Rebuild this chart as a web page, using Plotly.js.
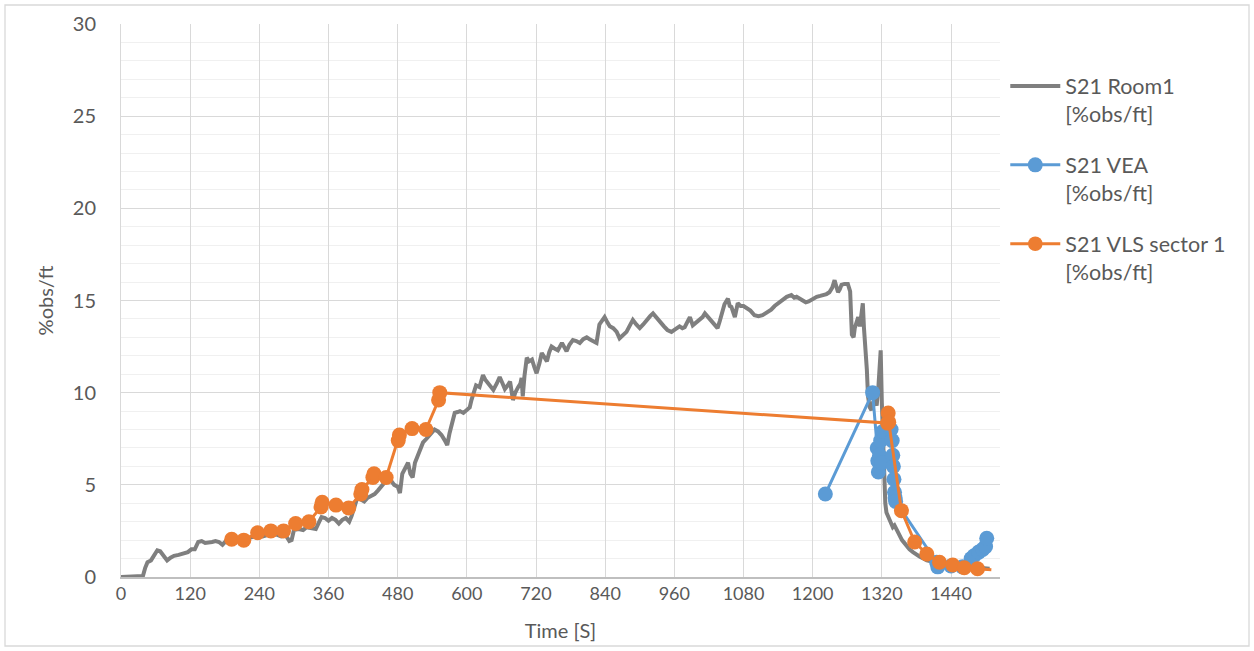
<!DOCTYPE html>
<html>
<head>
<meta charset="utf-8">
<script src="https://cdn.plot.ly/plotly-3.0.1.min.js"></script>
<style>html,body{margin:0;padding:0;background:#fff;}#chart{width:1254px;height:651px;}</style>
</head>
<body>
<div id="chart"></div>
<script>
// S21 Room1 [%obs/ft] — time (s) and value
const roomT = [0,10,20,30,38,42,46,52,58,63,68,74,80,86,92,100,108,116,122,128,134,140,146,152,158,164,170,176,182,190,198,206,214,222,230,238,246,254,262,270,278,286,292,296,300,308,316,322,330,338,344,348,354,360,366,372,378,384,390,396,400,406,410,416,422,428,434,440,446,452,458,462,468,474,480,484,488,494,498,502,506,510,514,518,524,530,536,540,544,550,556,562,566,570,574,579,584,588,594,600,605,608,612,616,622,628,632,637,642,646,652,657,662,666,671,675,680,684,689,693,695,697,700,704,708,713,717,721,726,730,735,739,743,747,752,758,765,769,773,778,784,790,796,802,808,813,818,825,830,835,839,844,848,854,860,865,870,877,882,888,894,900,906,912,918,923,928,935,942,948,955,962,969,974,978,982,987,992,998,1004,1009,1013,1019,1025,1030,1035,1039,1042,1047,1053,1056,1059,1062,1065,1070,1075,1080,1085,1092,1099,1106,1113,1120,1128,1134,1140,1148,1155,1163,1168,1172,1178,1183,1188,1193,1200,1207,1213,1219,1224,1229,1234,1238,1241,1244,1247,1250,1255,1261,1265,1268,1271,1273,1276,1279,1282,1285,1287,1289,1291,1294,1296,1299,1302,1305,1308,1311,1314,1318,1320,1322,1324,1326,1328,1331,1334,1337,1339,1342,1345,1348,1351,1355,1359,1363,1368,1374,1380,1386,1392,1398,1405,1412,1420,1428,1436,1443,1452,1462,1472,1480,1489,1498,1507];
const roomV = [0,0,0,0.02,0.05,0.5,0.8,0.9,1.2,1.45,1.4,1.1,0.9,1.05,1.15,1.2,1.3,1.35,1.5,1.5,1.9,1.95,1.85,1.85,1.9,1.95,1.9,1.75,1.95,2.0,2.1,2.0,2.05,2.1,2.15,2.25,2.2,2.3,2.35,2.3,2.2,2.25,1.95,2.0,2.55,2.6,2.55,2.7,2.65,2.6,3.0,3.25,3.2,3.05,3.2,3.1,2.9,3.1,3.2,3.0,3.3,4.0,4.3,4.2,4.1,4.3,4.4,4.5,4.7,4.9,5.1,5.3,5.25,5.0,4.9,4.55,5.6,6.0,6.2,5.6,5.4,6.2,6.5,6.8,7.3,7.5,7.7,7.9,8.0,7.9,7.7,7.4,7.15,7.8,8.35,8.9,8.95,9.0,8.9,9.05,9.2,9.6,10.1,10.4,10.3,10.95,10.7,10.5,10.3,10.15,10.5,10.85,10.5,10.2,10.4,10.6,9.6,10.0,10.3,10.5,10.8,9.8,10.9,11.9,11.7,11.8,11.4,11.05,11.6,12.15,11.9,11.7,12.2,12.5,12.4,12.3,12.7,12.5,12.25,12.6,12.85,12.8,12.7,12.9,13.0,12.9,12.8,12.7,13.7,13.9,14.1,13.8,13.6,13.5,13.3,12.95,13.1,13.3,13.6,13.95,13.7,13.5,13.7,13.95,14.15,14.3,14.1,13.9,13.6,13.4,13.3,13.45,13.6,13.5,13.55,13.8,14.1,13.65,13.8,13.95,14.1,14.3,14.1,13.85,13.7,13.5,13.9,14.3,14.8,15.1,14.7,14.65,14.4,14.1,14.85,14.7,14.7,14.6,14.45,14.2,14.15,14.2,14.35,14.5,14.7,14.85,15.0,15.2,15.3,15.15,15.2,15.1,15.0,14.9,14.95,15.1,15.2,15.25,15.3,15.35,15.45,15.7,16.1,15.8,15.45,15.6,15.85,15.9,15.9,15.5,13.15,13.0,13.5,13.8,14.1,13.6,14.2,14.85,13.5,12.7,11.25,9.8,9.2,9.05,9.5,9.6,9.3,10.3,12.3,9.45,7.5,5.8,4.0,3.5,3.25,3.1,2.9,2.7,2.8,2.6,2.4,2.2,2.0,1.85,1.65,1.5,1.35,1.2,1.1,1.0,0.9,0.85,0.8,0.75,0.7,0.68,0.65,0.6,0.55,0.55,0.5,0.5,0.48,0.45];

// S21 VEA [%obs/ft]
const veaT = [1222,1304,1312,1313,1314,1316,1318,1320,1322,1336,1338,1339,1340,1341,1342,1343,1344,1415,1417,1440,1460,1475,1480,1488,1495,1500,1502];
const veaV = [4.5,10.0,7.0,6.3,5.7,6.6,7.4,6.2,7.9,8.0,7.4,6.6,6.0,5.3,4.6,4.3,4.1,0.8,0.55,0.6,0.55,1.0,1.15,1.35,1.5,1.65,2.1];

// S21 VLS sector 1 [%obs/ft]
const vlsT = [192,213,237,260,282,303,326,347,349,373,395,416,418,437,439,460,481,483,505,529,551,553,1330,1331,1332,1354,1377,1398,1420,1443,1463,1486,1510];
const vlsV = [2.05,2.0,2.4,2.5,2.5,2.9,3.0,3.8,4.05,3.9,3.75,4.5,4.75,5.4,5.6,5.4,7.4,7.7,8.05,8.0,9.6,10.0,8.35,8.9,8.4,3.6,1.9,1.25,0.8,0.65,0.5,0.45,0.4];

const seriesNames = ['S21 Room1<br>[%obs/ft]', 'S21 VEA<br>[%obs/ft]', 'S21 VLS sector 1<br>[%obs/ft]'];
const xTicks = [0,120,240,360,480,600,720,840,960,1080,1200,1320,1440];
const yTicks = [0,5,10,15,20,25,30];

const FONT = 'Lato, "Liberation Sans", sans-serif';
const TXT = '#595959';

const vlsSizes = vlsT.map((t, i) => i === vlsT.length - 1 ? 0 : 15);

const traces = [
  {x: roomT, y: roomV, type: 'scatter', mode: 'lines', name: seriesNames[0], legendgroup: 'a',
   line: {color: '#7f7f7f', width: 4}},
  {x: veaT, y: veaV, type: 'scatter', mode: 'lines+markers', name: seriesNames[1], legendgroup: 'b',
   line: {color: '#5b9bd5', width: 3}, marker: {color: '#5b9bd5', size: 15, opacity: 1, line: {width: 0}}},
  {x: vlsT, y: vlsV, type: 'scatter', mode: 'lines+markers', name: seriesNames[2], legendgroup: 'c',
   line: {color: '#ed7d31', width: 3}, marker: {color: '#ed7d31', size: vlsSizes, opacity: 1, line: {width: 0}}}
];

const layout = {
  width: 1254, height: 651,
  margin: {l: 121, r: 254, t: 24, b: 74},
  paper_bgcolor: '#ffffff', plot_bgcolor: '#ffffff',
  font: {family: FONT, color: TXT, size: 18},
  showlegend: true,
  legend: {x: 1.006, xanchor: 'left', y: 0.925, yanchor: 'top', valign: 'top',
           traceorder: 'grouped', tracegroupgap: 20, itemwidth: 50,
           font: {family: FONT, size: 21.5, color: TXT}, bgcolor: 'rgba(0,0,0,0)'},
  xaxis: {
    range: [0, 1525], tickvals: xTicks, ticktext: xTicks.map(String),
    showgrid: true, gridcolor: '#d9d9d9', gridwidth: 1,
    zeroline: false, showline: true, linecolor: '#bfbfbf', linewidth: 1.5,
    ticks: '', tickfont: {family: FONT, size: 18, color: TXT},
    title: {text: 'Time [S]', font: {family: FONT, size: 20, color: TXT}, standoff: 21},
    minor: {showgrid: false}
  },
  yaxis: {
    range: [0, 30], tickvals: yTicks, ticktext: yTicks.map(String),
    showgrid: true, gridcolor: '#d9d9d9', gridwidth: 1,
    zeroline: false, showline: true, linecolor: '#d9d9d9', linewidth: 1,
    ticks: 'outside', ticklen: 20, tickcolor: 'rgba(0,0,0,0)',
    tickfont: {family: FONT, size: 20, color: TXT},
    title: {text: '%obs/ft', font: {family: FONT, size: 20, color: TXT}, standoff: 13},
    minor: {dtick: 1, showgrid: true, gridcolor: '#f0f0f0', gridwidth: 1}
  },
  shapes: [
    {type: 'rect', xref: 'paper', yref: 'paper',
     x0: (5 - 121) / 879, x1: (1249 - 121) / 879, y0: (577 - 646) / 553, y1: (577 - 5) / 553,
     line: {color: '#d9d9d9', width: 1.3}, fillcolor: 'rgba(0,0,0,0)', layer: 'below'}
  ]
};

Plotly.newPlot('chart', traces, layout, {displayModeBar: false, staticPlot: true});
</script>
</body>
</html>
